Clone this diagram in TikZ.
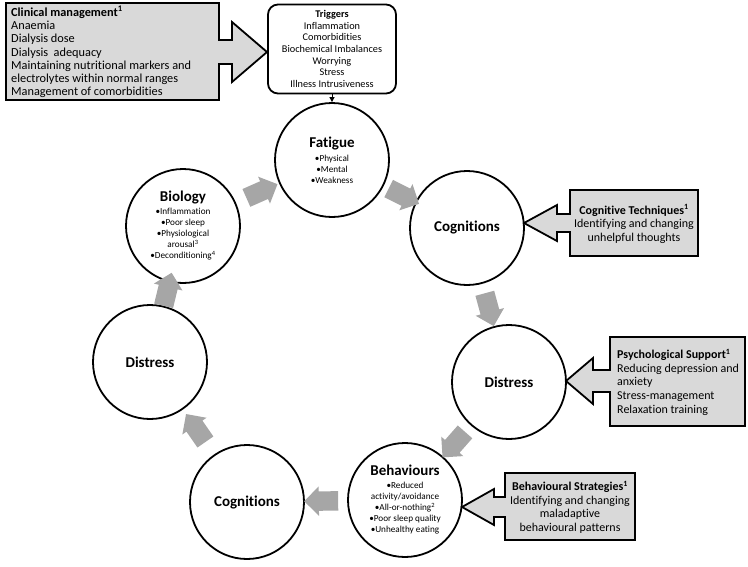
\documentclass[tikz,border=0pt]{standalone}
\usepackage{fontspec}
\setmainfont{Carlito}[Ligatures=NoCommon]
\usetikzlibrary{shapes.arrows,arrows.meta}
\definecolor{calloutgray}{HTML}{D9D9D9}
\definecolor{flowgray}{HTML}{A6A6A6}
\newcommand{\mytitle}[1]{{\fontsize{15}{17}\selectfont\bfseries #1}}
\newcommand{\mybul}[1]{{\fontsize{9.2}{11}\selectfont •#1}}
\newcommand{\mytxt}[1]{{\fontsize{9.2}{11}\selectfont #1}}
\begin{document}
\begin{tikzpicture}[x=1pt,y=-1pt,
  circ/.style={circle, draw=black, line width=1.8pt, minimum size=114pt, inner sep=0pt, align=center, font=\fontsize{9.2}{11}\selectfont},
  flowarrow/.style={single arrow, fill=flowgray, draw=none, inner xsep=0pt, inner ysep=9.5pt, single arrow head extend=5pt, minimum height=34pt, sloped, allow upside down},
  callout/.style={draw=black, line width=1.8pt, fill=calloutgray, line join=miter},
  calltext/.style={inner sep=0pt, font=\fontsize{12}{13.6}\selectfont},
  trigbox/.style={draw=black, line width=1.8pt, rounded corners=10pt, minimum width=128pt, minimum height=89pt, inner sep=0pt, align=center, font=\fontsize{10.3}{11.6}\selectfont}
]
\useasboundingbox (0,0) rectangle (748,566);

% circles
\node[circ] (fat) at (332,160) {\mytitle{Fatigue}\\[3pt] \mybul{Physical}\\ \mybul{Mental}\\ \mybul{Weakness}};
\node[circ] (cogR) at (467,228) {\mytitle{Cognitions}};
\node[circ] (disR) at (509,382) {\mytitle{Distress}};
\node[circ] (beh) at (405,500) {\mytitle{Behaviours}\\[2pt] \mybul{Reduced}\\ \mytxt{activity/avoidance}\\ \mybul{All-or-nothing\textsuperscript{2}}\\ \mybul{Poor sleep quality}\\ \mybul{Unhealthy eating}};
\node[circ] (cogL) at (247,502) {\mytitle{Cognitions}};
\node[circ] (disL) at (150,362) {\mytitle{Distress}};
\node[circ] (bio) at (183,226) {\mytitle{Biology}\\[2pt] \mybul{Inflammation}\\ \mybul{Poor sleep}\\ \mybul{Physiological}\\ \mytxt{arousal\textsuperscript{3}}\\ \mybul{Deconditioning\textsuperscript{4}}};

% flow arrows
\path (bio) -- node[flowarrow] (a1) {} (fat);
\path (fat) -- node[flowarrow] (a2) {} (cogR);
\path (cogR) -- node[flowarrow] (a3) {} (disR);
\path (disR) -- node[flowarrow] (a4) {} (beh);
\path (beh) -- node[flowarrow] (a5) {} (cogL);
\path (cogL) -- node[flowarrow] (a6) {} (disL);
\path (disL) -- node[flowarrow] (a7) {} (bio);

% triggers
\node[trigbox] (trig) at (332,49) {\textbf{Triggers}\\ Inflammation\\ Comorbidities\\ Biochemical Imbalances\\ Worrying\\ Stress\\ Illness Intrusiveness};
\draw[line width=0.8pt, -{Triangle[length=5pt,width=5pt]}] (trig) -- (fat);

% clinical management callout
\draw[callout] (6,3) -- (219,3) -- (219,40) -- (232,40) -- (232,22) -- (267,52) -- (232,82) -- (232,64) -- (219,64) -- (219,100) -- (6,100) -- cycle;
\node[calltext, anchor=north west, align=left, font=\fontsize{12.3}{13.3}\selectfont] (clin) at (11,6) {\textbf{Clinical management\textsuperscript{1}}\\ Anaemia\\ Dialysis dose\\ Dialysis\ \ adequacy\\ Maintaining nutritional markers and\\ electrolytes within normal ranges\\ Management of comorbidities};

% cognitive techniques callout
\draw[callout] (698,190) -- (570,190) -- (570,214) -- (557,214) -- (557,205) -- (524,223) -- (557,241) -- (557,232) -- (570,232) -- (570,256) -- (698,256) -- cycle;
\node[calltext, align=center] (cogt) at (634,224) {\textbf{Cognitive Techniques\textsuperscript{1}}\\ Identifying and changing\\ unhelpful thoughts};

% psychological support callout
\draw[callout] (745,337) -- (610,337) -- (610,370) -- (593,370) -- (593,358) -- (566,381) -- (593,404) -- (593,392) -- (610,392) -- (610,426) -- (745,426) -- cycle;
\node[calltext, anchor=north west, align=left] (psy) at (617,349) {\textbf{Psychological Support\textsuperscript{1}}\\ Reducing depression and\\ anxiety\\ Stress-management\\ Relaxation training};

% behavioural strategies callout
\draw[callout] (635,473) -- (505,473) -- (505,497) -- (494,497) -- (494,489) -- (462,507) -- (494,525) -- (494,517) -- (505,517) -- (505,540) -- (635,540) -- cycle;
\node[calltext, align=center] (behs) at (570,507) {\textbf{Behavioural Strategies\textsuperscript{1}}\\ Identifying and changing\\ maladaptive\\ behavioural patterns};
\end{tikzpicture}
\end{document}
